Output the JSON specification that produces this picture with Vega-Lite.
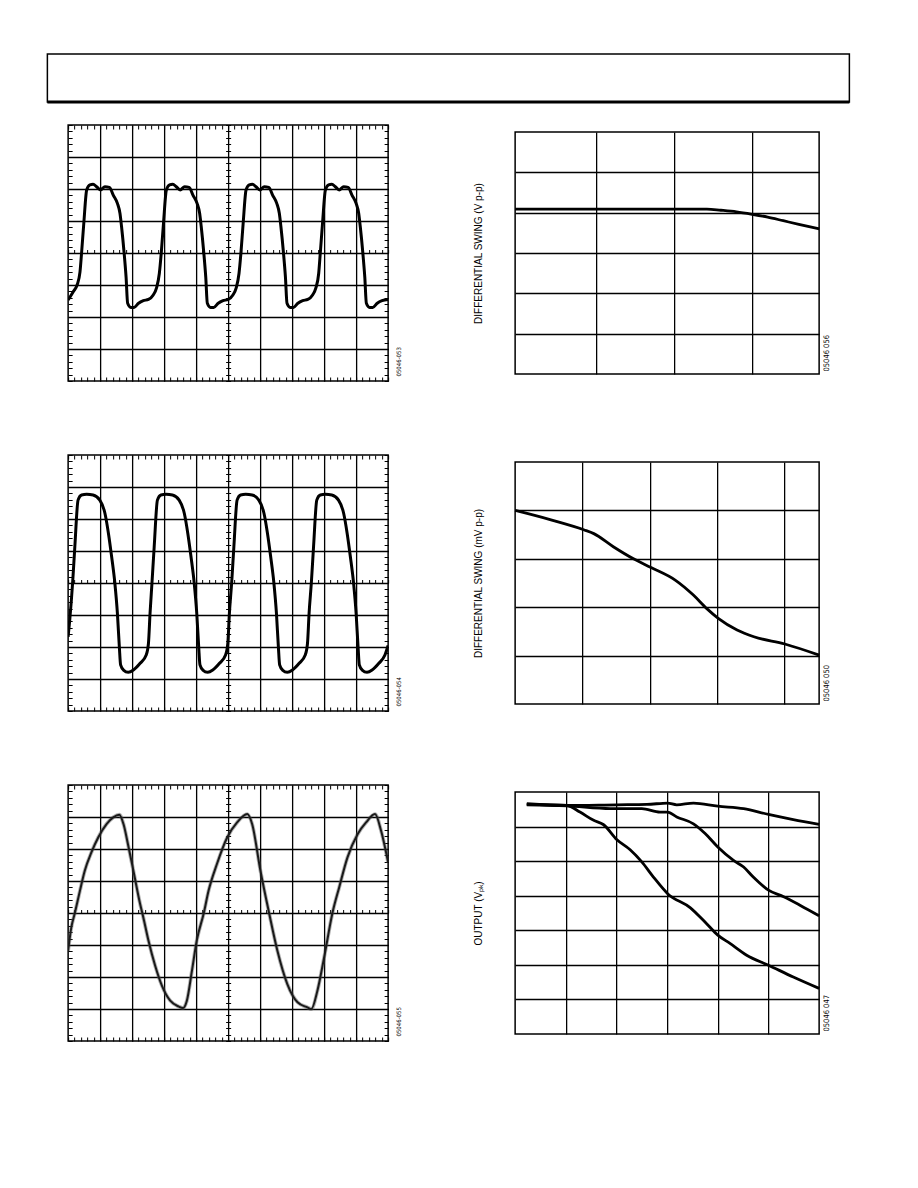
{
  "$schema": "https://vega.github.io/schema/vega-lite/v6.json",
  "padding": {"left": 45, "top": 53, "right": 0, "bottom": 0},
  "background": "white",
  "config": {
    "font": "Liberation Sans",
    "view": {"stroke": "black", "strokeWidth": 1.5},
    "axis": {"labels": false, "domain": false, "grid": false, "ticks": false, "tickColor": "black", "tickWidth": 1, "tickOpacity": 1, "gridColor": "black", "gridWidth": 1.3, "gridOpacity": 1, "titleFont": "Liberation Sans", "titleFontWeight": "normal", "titleColor": "black"}
  },
  "spacing": 18,
  "center": true,
  "vconcat": [
    {
      "width": 802, "height": 48,
      "data": {"values": [{"k": 1}]},
      "mark": {"type": "rule", "strokeWidth": 3, "color": "black"},
      "encoding": {"y": {"datum": 0, "type": "quantitative", "scale": {"domain": [0, 1]}, "axis": null}}
    },
    {
      "spacing": 70,
      "vconcat": [
        {
          "spacing": 127, "center": true, "bounds": "flush",
          "hconcat": [
            {
              "width": 320, "height": 256,
              "data": {"values": [
                {"t":0,"v":-1.47},{"t":0.16,"v":-1.21},{"t":0.28,"v":-1.0},{"t":0.37,"v":-0.6},{"t":0.42,"v":0},{"t":0.49,"v":0.93},{"t":0.58,"v":1.97},{"t":0.68,"v":2.13},{"t":0.78,"v":2.15},{"t":0.89,"v":2.07},{"t":1.01,"v":1.97},{"t":1.15,"v":2.07},{"t":1.29,"v":2.05},{"t":1.41,"v":1.81},{"t":1.54,"v":1.55},{"t":1.62,"v":1.24},{"t":1.67,"v":0.82},{"t":1.75,"v":0},{"t":1.81,"v":-0.74},{"t":1.86,"v":-1.57},{"t":1.96,"v":-1.7},{"t":2.06,"v":-1.7},{"t":2.2,"v":-1.57},{"t":2.35,"v":-1.49},{"t":2.51,"v":-1.45},{"t":2.66,"v":-1.31},{"t":2.76,"v":-1.1},{"t":2.85,"v":-0.64},
                {"t":2.91,"v":0},{"t":2.98,"v":0.93},{"t":3.07,"v":1.97},{"t":3.17,"v":2.13},{"t":3.27,"v":2.15},{"t":3.38,"v":2.07},{"t":3.5,"v":1.97},{"t":3.64,"v":2.07},{"t":3.78,"v":2.05},{"t":3.9,"v":1.81},{"t":4.03,"v":1.55},{"t":4.11,"v":1.24},{"t":4.16,"v":0.82},{"t":4.24,"v":0},{"t":4.3,"v":-0.74},{"t":4.35,"v":-1.57},{"t":4.45,"v":-1.7},{"t":4.55,"v":-1.7},{"t":4.69,"v":-1.57},{"t":4.84,"v":-1.49},{"t":5.0,"v":-1.45},{"t":5.15,"v":-1.31},{"t":5.25,"v":-1.1},{"t":5.34,"v":-0.64},
                {"t":5.4,"v":0},{"t":5.47,"v":0.93},{"t":5.56,"v":1.97},{"t":5.66,"v":2.13},{"t":5.76,"v":2.15},{"t":5.87,"v":2.07},{"t":5.99,"v":1.97},{"t":6.13,"v":2.07},{"t":6.27,"v":2.05},{"t":6.39,"v":1.81},{"t":6.52,"v":1.55},{"t":6.6,"v":1.24},{"t":6.65,"v":0.82},{"t":6.73,"v":0},{"t":6.79,"v":-0.74},{"t":6.84,"v":-1.57},{"t":6.94,"v":-1.7},{"t":7.04,"v":-1.7},{"t":7.18,"v":-1.57},{"t":7.33,"v":-1.49},{"t":7.49,"v":-1.45},{"t":7.64,"v":-1.31},{"t":7.74,"v":-1.1},{"t":7.83,"v":-0.64},
                {"t":7.88,"v":0},{"t":7.95,"v":0.93},{"t":8.04,"v":1.97},{"t":8.14,"v":2.13},{"t":8.24,"v":2.15},{"t":8.35,"v":2.07},{"t":8.47,"v":1.97},{"t":8.61,"v":2.07},{"t":8.75,"v":2.05},{"t":8.87,"v":1.81},{"t":9.0,"v":1.55},{"t":9.08,"v":1.24},{"t":9.13,"v":0.82},{"t":9.21,"v":0},{"t":9.27,"v":-0.74},{"t":9.32,"v":-1.57},{"t":9.42,"v":-1.7},{"t":9.52,"v":-1.7},{"t":9.66,"v":-1.57},{"t":9.81,"v":-1.49},{"t":10,"v":-1.45}
              ]},
              "resolve": {"axis": {"x": "independent", "y": "independent"}},
              "layer": [
                {"mark": {"type": "line", "color": "black", "strokeWidth": 3, "interpolate": "monotone", "clip": true},
                 "encoding": {
                   "x": {"field": "t", "type": "quantitative", "scale": {"domain": [0, 10], "nice": false, "zero": false}, "axis": {"orient": "bottom", "values": [1,2,3,4,5,6,7,8,9], "grid": true, "title": null}},
                   "y": {"field": "v", "type": "quantitative", "scale": {"domain": [-4, 4], "nice": false, "zero": false}, "axis": {"orient": "left", "values": [-3,-2,-1,0,1,2,3], "grid": true, "title": null}}}},
                {"mark": {"type": "point", "opacity": 0, "size": 0},
                 "encoding": {
                   "x": {"field": "t", "type": "quantitative", "axis": {"orient": "bottom", "tickCount": 50, "ticks": true, "tickSize": -4, "title": null}},
                   "y": {"field": "v", "type": "quantitative", "axis": {"orient": "left", "tickCount": 40, "ticks": true, "tickSize": -4, "title": null}}}},
                {"mark": {"type": "point", "opacity": 0, "size": 0},
                 "encoding": {
                   "x": {"field": "t", "type": "quantitative", "axis": {"orient": "top", "tickCount": 50, "ticks": true, "tickSize": -4, "title": null}},
                   "y": {"field": "v", "type": "quantitative", "axis": {"orient": "right", "tickCount": 40, "ticks": true, "tickSize": -4, "title": "05046-053", "titleAngle": 270, "titleX": 10, "titleY": 251, "titleAlign": "left", "titleBaseline": "middle", "titleFontSize": 6, "titleFont": "Liberation Sans Narrow, DejaVu Sans Condensed, Liberation Sans"}}}},
                {"mark": {"type": "point", "opacity": 0, "size": 0},
                 "encoding": {
                   "x": {"field": "t", "type": "quantitative", "axis": {"orient": "bottom", "offset": -128, "tickCount": 50, "ticks": true, "tickSize": -3.5, "title": null}},
                   "y": {"field": "v", "type": "quantitative", "axis": {"orient": "left", "offset": -160, "tickCount": 40, "ticks": true, "tickSize": -2.5, "title": null}}}},
                {"mark": {"type": "point", "opacity": 0, "size": 0},
                 "encoding": {
                   "x": {"field": "t", "type": "quantitative", "axis": null},
                   "y": {"field": "v", "type": "quantitative", "axis": {"orient": "left", "offset": -160, "tickCount": 40, "ticks": true, "tickSize": 2.5, "title": null}}}}
              ]
            },
            {
              "width": 304, "height": 242,
              "data": {"values": [
                {"x":-0.04,"y":4.09},{"x":0.5,"y":4.09},{"x":1.0,"y":4.09},{"x":1.5,"y":4.09},{"x":2.0,"y":4.09},{"x":2.42,"y":4.09},{"x":2.6,"y":4.06},{"x":2.8,"y":4.02},{"x":3.0,"y":3.96},{"x":3.2,"y":3.89},{"x":3.4,"y":3.8},{"x":3.6,"y":3.71},{"x":3.86,"y":3.6}
              ]},
              "resolve": {"axis": {"x": "independent", "y": "independent"}},
              "layer": [
                {"mark": {"type": "line", "color": "black", "strokeWidth": 2.8, "interpolate": "monotone"},
                 "encoding": {
                   "x": {"field": "x", "type": "quantitative", "scale": {"domain": [-0.04, 3.86], "nice": false, "zero": false}, "axis": {"orient": "bottom", "values": [1,2,3], "grid": true, "title": null}},
                   "y": {"field": "y", "type": "quantitative", "scale": {"domain": [0, 6], "nice": false, "zero": false}, "axis": {"orient": "left", "values": [1,2,3,4,5], "grid": true, "title": "DIFFERENTIAL SWING (V p-p)", "titleX": -37, "titleY": 121, "titleAngle": 270, "titleAlign": "center", "titleBaseline": "middle", "titleFontSize": 10}}}},
                {"mark": {"type": "point", "opacity": 0, "size": 0},
                 "encoding": {
                   "x": {"field": "x", "type": "quantitative", "axis": null},
                   "y": {"field": "y", "type": "quantitative", "axis": {"orient": "right", "title": "05046 056", "titleAngle": 270, "titleX": 7.5, "titleY": 239, "titleAlign": "left", "titleBaseline": "middle", "titleFontSize": 7.5, "titleFont": "Liberation Sans Narrow, DejaVu Sans Condensed, Liberation Sans"}}}}
              ]
            }
          ]
        },
        {
          "spacing": 127, "center": true, "bounds": "flush",
          "hconcat": [
            {
              "width": 320, "height": 256,
              "data": {"values": [
                {"t":0,"v":-1.68},{"t":0.05,"v":-1.16},{"t":0.14,"v":0},{"t":0.21,"v":1.14},{"t":0.31,"v":2.59},{"t":0.42,"v":2.75},{"t":0.58,"v":2.77},{"t":0.78,"v":2.75},{"t":0.99,"v":2.59},{"t":1.15,"v":2.18},{"t":1.26,"v":1.55},{"t":1.36,"v":0.82},{"t":1.46,"v":0},{"t":1.54,"v":-0.95},{"t":1.6,"v":-1.99},{"t":1.64,"v":-2.56},{"t":1.73,"v":-2.72},{"t":1.88,"v":-2.79},{"t":2.04,"v":-2.72},{"t":2.25,"v":-2.51},{"t":2.44,"v":-2.25},{"t":2.51,"v":-1.89},{"t":2.56,"v":-0.95},
                {"t":2.62,"v":0},{"t":2.69,"v":1.14},{"t":2.79,"v":2.59},{"t":2.9,"v":2.75},{"t":3.06,"v":2.77},{"t":3.26,"v":2.75},{"t":3.47,"v":2.59},{"t":3.63,"v":2.18},{"t":3.74,"v":1.55},{"t":3.84,"v":0.82},{"t":3.94,"v":0},{"t":4.02,"v":-0.95},{"t":4.08,"v":-1.99},{"t":4.12,"v":-2.56},{"t":4.21,"v":-2.72},{"t":4.36,"v":-2.79},{"t":4.52,"v":-2.72},{"t":4.73,"v":-2.51},{"t":4.92,"v":-2.25},{"t":4.99,"v":-1.89},{"t":5.04,"v":-0.95},
                {"t":5.11,"v":0},{"t":5.18,"v":1.14},{"t":5.28,"v":2.59},{"t":5.39,"v":2.75},{"t":5.55,"v":2.77},{"t":5.75,"v":2.75},{"t":5.96,"v":2.59},{"t":6.12,"v":2.18},{"t":6.23,"v":1.55},{"t":6.33,"v":0.82},{"t":6.43,"v":0},{"t":6.51,"v":-0.95},{"t":6.57,"v":-1.99},{"t":6.61,"v":-2.56},{"t":6.7,"v":-2.72},{"t":6.85,"v":-2.79},{"t":7.01,"v":-2.72},{"t":7.22,"v":-2.51},{"t":7.41,"v":-2.25},{"t":7.48,"v":-1.89},{"t":7.53,"v":-0.95},
                {"t":7.6,"v":0},{"t":7.67,"v":1.14},{"t":7.77,"v":2.59},{"t":7.88,"v":2.75},{"t":8.04,"v":2.77},{"t":8.24,"v":2.75},{"t":8.45,"v":2.59},{"t":8.61,"v":2.18},{"t":8.72,"v":1.55},{"t":8.82,"v":0.82},{"t":8.92,"v":0},{"t":9.0,"v":-0.95},{"t":9.06,"v":-1.99},{"t":9.1,"v":-2.56},{"t":9.19,"v":-2.72},{"t":9.34,"v":-2.79},{"t":9.5,"v":-2.72},{"t":9.71,"v":-2.51},{"t":9.9,"v":-2.25},{"t":10,"v":-1.95}
              ]},
              "resolve": {"axis": {"x": "independent", "y": "independent"}},
              "layer": [
                {"mark": {"type": "line", "color": "black", "strokeWidth": 3, "interpolate": "monotone", "clip": true},
                 "encoding": {
                   "x": {"field": "t", "type": "quantitative", "scale": {"domain": [0, 10], "nice": false, "zero": false}, "axis": {"orient": "bottom", "values": [1,2,3,4,5,6,7,8,9], "grid": true, "title": null}},
                   "y": {"field": "v", "type": "quantitative", "scale": {"domain": [-4, 4], "nice": false, "zero": false}, "axis": {"orient": "left", "values": [-3,-2,-1,0,1,2,3], "grid": true, "title": null}}}},
                {"mark": {"type": "point", "opacity": 0, "size": 0},
                 "encoding": {
                   "x": {"field": "t", "type": "quantitative", "axis": {"orient": "bottom", "tickCount": 50, "ticks": true, "tickSize": -4, "title": null}},
                   "y": {"field": "v", "type": "quantitative", "axis": {"orient": "left", "tickCount": 40, "ticks": true, "tickSize": -4, "title": null}}}},
                {"mark": {"type": "point", "opacity": 0, "size": 0},
                 "encoding": {
                   "x": {"field": "t", "type": "quantitative", "axis": {"orient": "top", "tickCount": 50, "ticks": true, "tickSize": -4, "title": null}},
                   "y": {"field": "v", "type": "quantitative", "axis": {"orient": "right", "tickCount": 40, "ticks": true, "tickSize": -4, "title": "05046-054", "titleAngle": 270, "titleX": 10, "titleY": 251, "titleAlign": "left", "titleBaseline": "middle", "titleFontSize": 6, "titleFont": "Liberation Sans Narrow, DejaVu Sans Condensed, Liberation Sans"}}}},
                {"mark": {"type": "point", "opacity": 0, "size": 0},
                 "encoding": {
                   "x": {"field": "t", "type": "quantitative", "axis": {"orient": "bottom", "offset": -128, "tickCount": 50, "ticks": true, "tickSize": -3.5, "title": null}},
                   "y": {"field": "v", "type": "quantitative", "axis": {"orient": "left", "offset": -160, "tickCount": 40, "ticks": true, "tickSize": -2.5, "title": null}}}},
                {"mark": {"type": "point", "opacity": 0, "size": 0},
                 "encoding": {
                   "x": {"field": "t", "type": "quantitative", "axis": null},
                   "y": {"field": "v", "type": "quantitative", "axis": {"orient": "left", "offset": -160, "tickCount": 40, "ticks": true, "tickSize": 2.5, "title": null}}}}
              ]
            },
            {
              "width": 304, "height": 242,
              "data": {"values": [
                {"x":0,"y":4.0},{"x":0.52,"y":3.81},{"x":1.02,"y":3.6},{"x":1.17,"y":3.52},{"x":1.46,"y":3.25},{"x":1.76,"y":3.0},{"x":2.02,"y":2.82},{"x":2.38,"y":2.56},{"x":2.65,"y":2.25},{"x":2.85,"y":1.97},{"x":3.02,"y":1.77},{"x":3.3,"y":1.53},{"x":3.55,"y":1.39},{"x":4.01,"y":1.24},{"x":4.52,"y":1.01}
              ]},
              "resolve": {"axis": {"x": "independent", "y": "independent"}},
              "layer": [
                {"mark": {"type": "line", "color": "black", "strokeWidth": 2.8, "interpolate": "monotone"},
                 "encoding": {
                   "x": {"field": "x", "type": "quantitative", "scale": {"domain": [0, 4.52], "nice": false, "zero": false}, "axis": {"orient": "bottom", "values": [1,2,3,4], "grid": true, "title": null}},
                   "y": {"field": "y", "type": "quantitative", "scale": {"domain": [0, 5], "nice": false, "zero": false}, "axis": {"orient": "left", "values": [1,2,3,4], "grid": true, "title": "DIFFERENTIAL SWING (mV p-p)", "titleX": -37, "titleY": 121, "titleAngle": 270, "titleAlign": "center", "titleBaseline": "middle", "titleFontSize": 10}}}},
                {"mark": {"type": "point", "opacity": 0, "size": 0},
                 "encoding": {
                   "x": {"field": "x", "type": "quantitative", "axis": null},
                   "y": {"field": "y", "type": "quantitative", "axis": {"orient": "right", "title": "05046 050", "titleAngle": 270, "titleX": 7.5, "titleY": 239, "titleAlign": "left", "titleBaseline": "middle", "titleFontSize": 7.5, "titleFont": "Liberation Sans Narrow, DejaVu Sans Condensed, Liberation Sans"}}}}
              ]
            }
          ]
        },
        {
          "spacing": 127, "center": true, "bounds": "flush",
          "hconcat": [
            {
              "width": 320, "height": 256,
              "data": {"values": [
                {"t":0,"v":-1.18},{"t":0.1,"v":-0.45},{"t":0.21,"v":0},{"t":0.37,"v":0.7},{"t":0.52,"v":1.32},{"t":0.73,"v":1.9},{"t":0.94,"v":2.36},{"t":1.2,"v":2.78},{"t":1.41,"v":2.99},{"t":1.6,"v":3.07},{"t":1.73,"v":2.78},{"t":1.88,"v":2.1},{"t":2.04,"v":1.32},{"t":2.25,"v":0.28},{"t":2.35,"v":-0.14},{"t":2.51,"v":-0.86},{"t":2.72,"v":-1.65},{"t":2.93,"v":-2.27},{"t":3.19,"v":-2.74},{"t":3.45,"v":-2.92},{"t":3.59,"v":-2.97},{"t":3.71,"v":-2.74},{"t":3.87,"v":-1.8},{"t":4.02,"v":-0.86},{"t":4.24,"v":0},{"t":4.39,"v":0.7},{"t":4.65,"v":1.53},{"t":4.97,"v":2.36},{"t":5.28,"v":2.83},{"t":5.6,"v":3.09},{"t":5.75,"v":2.78},{"t":6.01,"v":1.32},{"t":6.28,"v":0},{"t":6.54,"v":-1.18},{"t":6.85,"v":-2.22},{"t":7.17,"v":-2.79},{"t":7.48,"v":-2.95},{"t":7.6,"v":-3.0},{"t":7.79,"v":-2.43},{"t":8.0,"v":-1.39},{"t":8.26,"v":0},{"t":8.47,"v":0.8},{"t":8.73,"v":1.74},{"t":9.05,"v":2.47},{"t":9.31,"v":2.83},{"t":9.59,"v":3.09},{"t":9.78,"v":2.57},{"t":10,"v":1.58}
              ]},
              "resolve": {"axis": {"x": "independent", "y": "independent"}},
              "layer": [
                {"mark": {"type": "line", "color": "#555555", "opacity": 0.45, "strokeWidth": 3.8, "interpolate": "monotone", "clip": true},
                 "encoding": {
                   "x": {"field": "t", "type": "quantitative", "scale": {"domain": [0, 10], "nice": false, "zero": false}, "axis": {"orient": "bottom", "values": [1,2,3,4,5,6,7,8,9], "grid": true, "title": null}},
                   "y": {"field": "v", "type": "quantitative", "scale": {"domain": [-4, 4], "nice": false, "zero": false}, "axis": {"orient": "left", "values": [-3,-2,-1,0,1,2,3], "grid": true, "title": null}}}},
                {"mark": {"type": "line", "color": "#1a1a1a", "strokeWidth": 2, "interpolate": "monotone", "clip": true},
                 "encoding": {
                   "x": {"field": "t", "type": "quantitative", "axis": {"orient": "bottom", "tickCount": 50, "ticks": true, "tickSize": -4, "title": null}},
                   "y": {"field": "v", "type": "quantitative", "axis": {"orient": "left", "tickCount": 40, "ticks": true, "tickSize": -4, "title": null}}}},
                {"mark": {"type": "point", "opacity": 0, "size": 0},
                 "encoding": {
                   "x": {"field": "t", "type": "quantitative", "axis": {"orient": "top", "tickCount": 50, "ticks": true, "tickSize": -4, "title": null}},
                   "y": {"field": "v", "type": "quantitative", "axis": {"orient": "right", "tickCount": 40, "ticks": true, "tickSize": -4, "title": "05046-055", "titleAngle": 270, "titleX": 10, "titleY": 251, "titleAlign": "left", "titleBaseline": "middle", "titleFontSize": 6, "titleFont": "Liberation Sans Narrow, DejaVu Sans Condensed, Liberation Sans"}}}},
                {"mark": {"type": "point", "opacity": 0, "size": 0},
                 "encoding": {
                   "x": {"field": "t", "type": "quantitative", "axis": {"orient": "bottom", "offset": -128, "tickCount": 50, "ticks": true, "tickSize": -3.5, "title": null}},
                   "y": {"field": "v", "type": "quantitative", "axis": {"orient": "left", "offset": -160, "tickCount": 40, "ticks": true, "tickSize": -2.5, "title": null}}}},
                {"mark": {"type": "point", "opacity": 0, "size": 0},
                 "encoding": {
                   "x": {"field": "t", "type": "quantitative", "axis": null},
                   "y": {"field": "v", "type": "quantitative", "axis": {"orient": "left", "offset": -160, "tickCount": 40, "ticks": true, "tickSize": 2.5, "title": null}}}}
              ]
            },
            {
              "width": 304, "height": 242,
              "data": {"values": [
                {"s":"A","x":0.23,"y":6.66},{"s":"A","x":1.02,"y":6.61},{"s":"A","x":2.01,"y":6.63},{"s":"A","x":2.6,"y":6.64},{"s":"A","x":3.01,"y":6.68},{"s":"A","x":3.19,"y":6.63},{"s":"A","x":3.52,"y":6.68},{"s":"A","x":4.0,"y":6.59},{"s":"A","x":4.51,"y":6.52},{"s":"A","x":5.0,"y":6.35},{"s":"A","x":5.49,"y":6.2},{"s":"A","x":6.0,"y":6.06},
                {"s":"B","x":0.23,"y":6.63},{"s":"B","x":1.02,"y":6.6},{"s":"B","x":1.88,"y":6.52},{"s":"B","x":2.5,"y":6.52},{"s":"B","x":2.86,"y":6.42},{"s":"B","x":3.01,"y":6.42},{"s":"B","x":3.19,"y":6.28},{"s":"B","x":3.52,"y":6.08},{"s":"B","x":3.75,"y":5.8},{"s":"B","x":4.0,"y":5.41},{"s":"B","x":4.31,"y":5.02},{"s":"B","x":4.51,"y":4.83},{"s":"B","x":4.7,"y":4.54},{"s":"B","x":5.0,"y":4.16},{"s":"B","x":5.3,"y":3.97},{"s":"B","x":5.63,"y":3.72},{"s":"B","x":6.0,"y":3.42},
                {"s":"C","x":0.23,"y":6.64},{"s":"C","x":1.02,"y":6.61},{"s":"C","x":1.28,"y":6.42},{"s":"C","x":1.55,"y":6.18},{"s":"C","x":1.74,"y":6.06},{"s":"C","x":2.01,"y":5.62},{"s":"C","x":2.27,"y":5.33},{"s":"C","x":2.5,"y":4.98},{"s":"C","x":2.73,"y":4.54},{"s":"C","x":3.01,"y":4.06},{"s":"C","x":3.46,"y":3.65},{"s":"C","x":3.78,"y":3.19},{"s":"C","x":4.0,"y":2.86},{"s":"C","x":4.24,"y":2.62},{"s":"C","x":4.57,"y":2.28},{"s":"C","x":5.0,"y":1.99},{"s":"C","x":5.49,"y":1.65},{"s":"C","x":6.0,"y":1.32}
              ]},
              "resolve": {"axis": {"x": "independent", "y": "independent"}},
              "layer": [
                {"mark": {"type": "line", "color": "black", "strokeWidth": 2.8, "interpolate": "monotone"},
                 "encoding": {
                   "detail": {"field": "s", "type": "nominal"},
                   "x": {"field": "x", "type": "quantitative", "scale": {"domain": [0, 6], "nice": false, "zero": false}, "axis": {"orient": "bottom", "values": [1,2,3,4,5], "grid": true, "title": null}},
                   "y": {"field": "y", "type": "quantitative", "scale": {"domain": [0, 7], "nice": false, "zero": false}, "axis": {"orient": "left", "values": [1,2,3,4,5,6], "grid": true, "title": "OUTPUT (Vₚₖ)", "titleX": -37, "titleY": 121, "titleAngle": 270, "titleAlign": "center", "titleBaseline": "middle", "titleFontSize": 10}}}},
                {"mark": {"type": "point", "opacity": 0, "size": 0},
                 "encoding": {
                   "x": {"field": "x", "type": "quantitative", "axis": null},
                   "y": {"field": "y", "type": "quantitative", "axis": {"orient": "right", "title": "05046 047", "titleAngle": 270, "titleX": 7.5, "titleY": 239, "titleAlign": "left", "titleBaseline": "middle", "titleFontSize": 7.5, "titleFont": "Liberation Sans Narrow, DejaVu Sans Condensed, Liberation Sans"}}}}
              ]
            }
          ]
        }
      ]
    }
  ]
}
